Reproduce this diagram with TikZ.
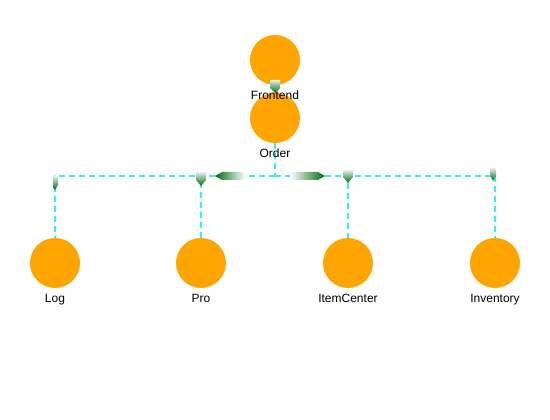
\documentclass[tikz,border=0pt]{standalone}
\usepackage{fontspec}
\setmainfont{Liberation Sans}
\usetikzlibrary{shadings}
\definecolor{nodeor}{HTML}{FFA500}
\definecolor{linecy}{HTML}{30F0F0}
\definecolor{arrg}{HTML}{006B14}
\begin{document}
\begin{tikzpicture}[x=1pt,y=-1pt,
  ball/.style={circle,fill=nodeor,minimum size=50pt,inner sep=0pt},
  lab/.style={font=\fontsize{12pt}{12pt}\selectfont,inner sep=0pt,anchor=base},
  link/.style={draw=linecy,line width=1.6pt,dash pattern=on 6pt off 4pt},
  vtip/.style={top color=arrg!10,middle color=arrg!70,bottom color=arrg,draw=none},
  htipl/.style={left color=arrg,right color=white,draw=none},
  htipr/.style={left color=white,right color=arrg,draw=none}]
\useasboundingbox (0,0) rectangle (550,420);
\node[ball] (frontend) at (275,60) {};
\node[ball] (order) at (275,118) {};
\node[ball] (log) at (55,263) {};
\node[ball] (pro) at (201,263) {};
\node[ball] (item) at (348,263) {};
\node[ball] (inv) at (495,263) {};
\coordinate (bus) at (275,176);
% connectors
\draw[link] (frontend) -- (order);
\draw[link] (order) -- (bus);
\draw[link] (bus) -| (log);
\draw[link] (bus) -| (pro);
\draw[link] (bus) -| (item);
\draw[link] (bus) -| (inv);
% arrow markers
\shade[vtip] (270,80) -- (280,80) -- (280,88) -- (275,93) -- (270,88) -- cycle;
\shade[vtip] (196,172) -- (206,172) -- (206,180) -- (201,186) -- (196,180) -- cycle;
\shade[vtip] (343,170) -- (353,170) -- (353,177) -- (348,183) -- (343,177) -- cycle;
\shade[vtip] (490,168) -- (496,168) -- (496,176) -- (493,181) -- (490,176) -- cycle;
\shade[vtip] (53,176) -- (58,176) -- (58,185) -- (55,190) -- (53,188) -- cycle;
\shade[htipl] (215,176) -- (222,172) -- (245,172) -- (245,180) -- (222,180) -- cycle;
\shade[htipr] (325,176) -- (318,172) -- (290,172) -- (290,180) -- (318,180) -- cycle;
% labels
\node[lab] at (275,100) {Frontend};
\node[lab] at (275,158) {Order};
\node[lab] at (55,302) {Log};
\node[lab] at (201,302) {Pro};
\node[lab] at (348,302) {ItemCenter};
\node[lab] at (495,302) {Inventory};
\end{tikzpicture}
\end{document}
